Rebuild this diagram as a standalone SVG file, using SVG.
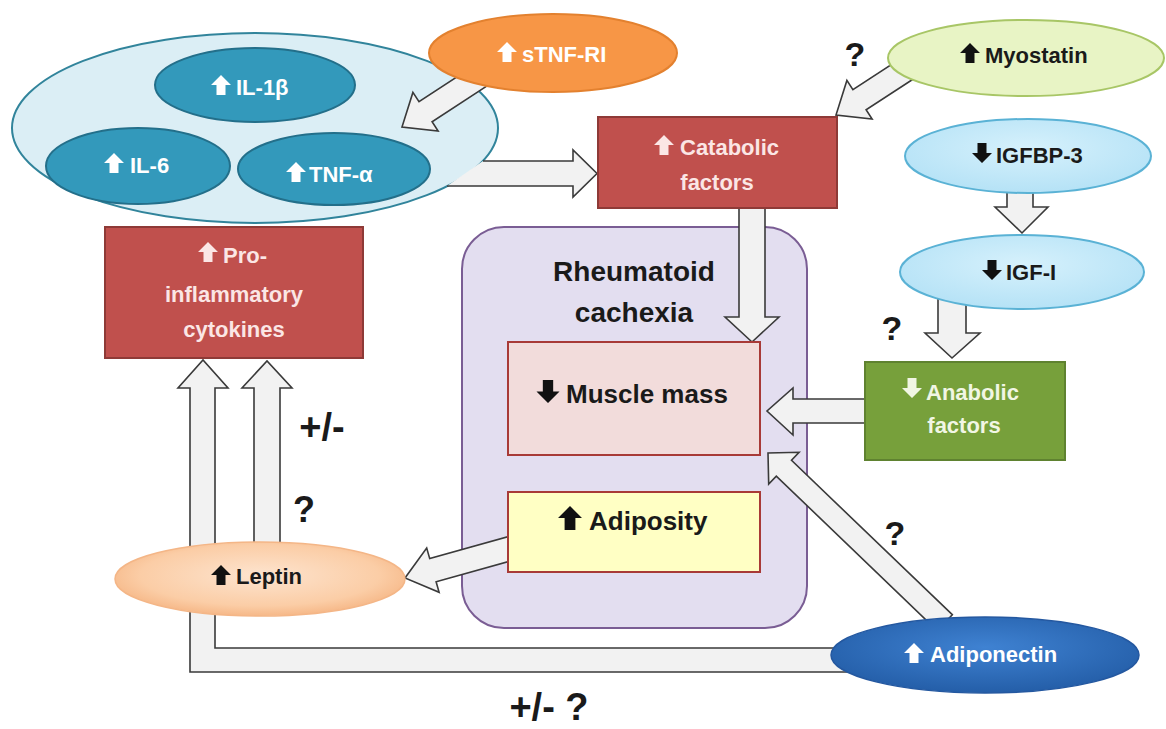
<svg xmlns="http://www.w3.org/2000/svg" width="1166" height="729" viewBox="0 0 1166 729">
<style>
text{font-family:"Liberation Sans",Arial,sans-serif;font-weight:bold}
.w{fill:#ffffff;font-size:22px}
.wp{fill:#fbe6e5;font-size:22px}
.wg{fill:#f1f6e4;font-size:22px}
.k{fill:#1a1a1a;font-size:22px}
.big{fill:#1a1a1a;font-size:26px}
.lbl{fill:#1a1a1a;font-size:38px;text-anchor:middle}
.mid{text-anchor:middle}
.blk{fill:#f2f2f2;stroke:#3a3a3a;stroke-width:1.6;stroke-linejoin:miter}
.inner{fill:#3399bb;stroke:#236f8a;stroke-width:2}
.red{fill:#c0504d;stroke:#8e3a37;stroke-width:2}
</style>
<defs>
<path id="up" d="M0,-20 L10,-10 L4.5,-10 L4.5,0 L-4.5,0 L-4.5,-10 L-10,-10 Z"/>
<path id="dn" d="M0,0 L10,-10 L4.5,-10 L4.5,-20 L-4.5,-20 L-4.5,-10 L-10,-10 Z"/>
<radialGradient id="gLep" cx="50%" cy="45%" r="55%">
<stop offset="0" stop-color="#fde4cf"/><stop offset="0.75" stop-color="#fbcda6"/><stop offset="1" stop-color="#f6b888"/>
</radialGradient>
<radialGradient id="gAdp" cx="50%" cy="40%" r="60%">
<stop offset="0" stop-color="#3f82d2"/><stop offset="1" stop-color="#245ea8"/>
</radialGradient>
<radialGradient id="gIgf" cx="50%" cy="40%" r="60%">
<stop offset="0" stop-color="#d6f1fc"/><stop offset="1" stop-color="#b5e2f6"/>
</radialGradient>
</defs>
<rect width="1166" height="729" fill="#ffffff"/>

<g id="rheumatoid-cachexia">
<rect x="462" y="227" width="345" height="401" rx="42" ry="42" fill="#e3def0" stroke="#7a5d94" stroke-width="2"/>
<text class="big mid" x="634" y="281" style="font-size:28px">Rheumatoid</text>
<text class="big mid" x="634" y="322" style="font-size:28px">cachexia</text>
</g>

<g id="cytokine-cluster">
<ellipse cx="255" cy="128" rx="243" ry="95" fill="#dbeef5" stroke="#31849b" stroke-width="2"/>
<g id="il1b">
<ellipse class="inner" cx="255" cy="85" rx="100" ry="37"/>
<use href="#up" x="221" y="95" fill="#ffffff"/>
<text class="w" x="236" y="95">IL-1β</text>
</g>
<g id="il6">
<ellipse class="inner" cx="138" cy="166" rx="92" ry="38"/>
<use href="#up" x="114" y="173" fill="#ffffff"/>
<text class="w" x="130" y="173">IL-6</text>
</g>
<g id="tnfa">
<ellipse class="inner" cx="334" cy="169" rx="96" ry="36"/>
<use href="#up" x="296" y="182" fill="#ffffff"/>
<text class="w" x="309" y="182">TNF-α</text>
</g>
</g>

<g id="connectors">
<path class="blk" d="M447,186 L573,186 L573,197 L597,173.5 L573,150 L573,161 L483,161"/>
<polygon class="blk" points="488.2,85.2 432.1,121.8 438.1,131 402,127 412.9,92.4 419,101.6 475,65"/>
<polygon class="blk" points="926.4,70.5 866.1,109.8 872.1,119 836,115 846.9,80.4 852.9,89.6 913.2,50.3"/>
<polygon class="blk" points="739,200 739,317 725,317 752,342 779,317 765,317 765,200"/>
<polygon class="blk" points="1007,180 1007,207 995,207 1022,233 1048,207 1033,207 1033,180"/>
<polygon class="blk" points="938,290 938,333 925,333 952,358 980,333 966,333 966,290"/>
<polygon class="blk" points="870,399 793,399 793,388 767,411 793,435 793,423 870,423"/>
<polygon class="blk" points="952.3,614.7 791.5,460.3 799.1,452.3 768,453 768.7,484.1 776.3,476.1 937.1,630.5"/>
<polygon class="blk" points="518.9,558.6 436.1,581.8 439.1,592.3 405,578 426.7,548.1 429.7,558.6 512.5,535.4"/>
<path class="blk" d="M860,648 L215,648 L215,388 L228,388 L203,360 L178,388 L190,388 L190,672 L860,672"/>
<polygon class="blk" points="254,570 254,388 242,388 267,361 292,388 280,388 280,570"/>
</g>

<g id="stnf-ri">
<ellipse cx="553" cy="53" rx="124" ry="39" fill="#f79646" stroke="#e3812f" stroke-width="2"/>
<use href="#up" x="507" y="62" fill="#ffffff"/>
<text class="w" x="522" y="62">sTNF-RI</text>
</g>

<g id="myostatin">
<ellipse cx="1026" cy="58" rx="138" ry="38" fill="#e8f4c5" stroke="#a8c666" stroke-width="2"/>
<use href="#up" x="970" y="63" fill="#111111"/>
<text class="k" x="985" y="63">Myostatin</text>
</g>

<g id="catabolic-factors">
<rect class="red" x="598" y="117" width="239" height="91"/>
<use href="#up" x="664" y="155" fill="#fbe6e5"/>
<text class="wp" x="680" y="155">Catabolic</text>
<text class="wp mid" x="717" y="190">factors</text>
</g>

<g id="igfbp3">
<ellipse cx="1028" cy="156" rx="123" ry="37" fill="url(#gIgf)" stroke="#5ab2d5" stroke-width="2"/>
<use href="#dn" x="982" y="163" fill="#111111"/>
<text class="k" x="996" y="163">IGFBP-3</text>
</g>

<g id="igf1">
<ellipse cx="1022" cy="272" rx="122" ry="37" fill="url(#gIgf)" stroke="#5ab2d5" stroke-width="2"/>
<use href="#dn" x="992" y="280" fill="#111111"/>
<text class="k" x="1006" y="280">IGF-I</text>
</g>

<g id="anabolic-factors">
<rect x="865" y="362" width="200" height="98" fill="#77a03b" stroke="#5f8230" stroke-width="2"/>
<use href="#dn" x="912" y="398" fill="#f1f6e4"/>
<text class="wg" x="926" y="400">Anabolic</text>
<text class="wg mid" x="964" y="433">factors</text>
</g>

<g id="muscle-mass">
<rect x="508" y="342" width="252" height="113" fill="#f2dcdb" stroke="#a83a37" stroke-width="2"/>
<use href="#dn" transform="translate(548,403) scale(1.15)" fill="#111111"/>
<text class="big" x="566" y="403">Muscle mass</text>
</g>

<g id="adiposity">
<rect x="508" y="492" width="252" height="80" fill="#ffffc4" stroke="#a83a37" stroke-width="2"/>
<use href="#up" transform="translate(570,530) scale(1.2)" fill="#111111"/>
<text class="big" x="589" y="530">Adiposity</text>
</g>

<g id="pro-inflammatory-cytokines">
<rect class="red" x="105" y="227" width="258" height="131"/>
<use href="#up" x="208" y="262" fill="#fbe6e5"/>
<text class="wp" x="223" y="263">Pro-</text>
<text class="wp mid" x="234" y="302">inflammatory</text>
<text class="wp mid" x="234" y="337">cytokines</text>
</g>

<g id="leptin">
<ellipse cx="260" cy="579" rx="145" ry="37" fill="url(#gLep)" stroke="#f4b687" stroke-width="1.5"/>
<use href="#up" x="221" y="585" fill="#111111"/>
<text class="k" x="236" y="584">Leptin</text>
</g>

<g id="adiponectin">
<ellipse cx="985" cy="655" rx="154" ry="38" fill="url(#gAdp)" stroke="#2458a0" stroke-width="1.5"/>
<use href="#up" x="914" y="663" fill="#ffffff"/>
<text class="w" x="930" y="662">Adiponectin</text>
</g>

<g id="labels">
<text class="lbl" x="855" y="66" style="font-size:34px">?</text>
<text class="lbl" x="892" y="340" style="font-size:34px">?</text>
<text class="lbl" x="895" y="545" style="font-size:34px">?</text>
<text class="lbl" x="322" y="440">+/-</text>
<text class="lbl" x="304" y="522" style="font-size:36px">?</text>
<text class="lbl" x="549" y="720">+/-  ?</text>
</g>
</svg>
